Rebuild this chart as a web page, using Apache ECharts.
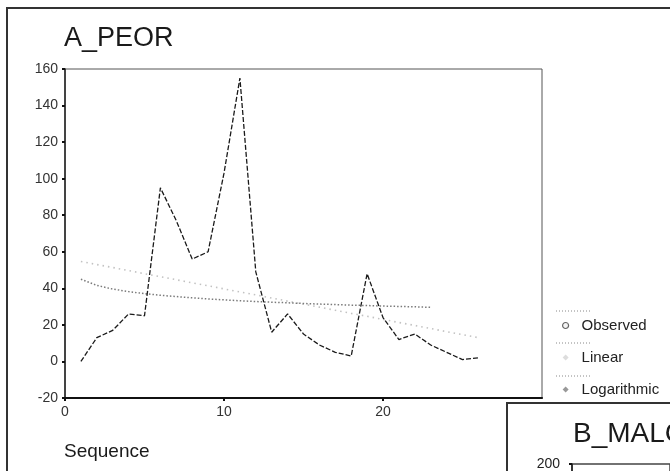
<!DOCTYPE html>
<html>
<head>
<meta charset="utf-8">
<script src="https://cdn.jsdelivr.net/npm/echarts@6/dist/echarts.min.js"></script>
<style>
  html, body { margin: 0; padding: 0; background: #fff; }
  #chart { width: 670px; height: 471px; }
</style>
</head>
<body>
<div id="chart"></div>
<script>
// Sequence index of each observation
var sequence = [1,2,3,4,5,6,7,8,9,10,11,12,13,14,15,16,17,18,19,20,21,22,23,24,25,26];
// Observed A_PEOR values
var observed = [0,13,17,26,25,95,77,56,60,103,155,49,16,26,15,9,5,3,48,24,12,15,9,5,1,2];
// Linear fit values at each sequence index
var linearFit = [54.7,53.0,51.4,49.7,48.0,46.4,44.7,43.0,41.4,39.7,38.0,36.4,34.7,33.0,31.3,29.7,28.0,26.3,24.7,23.0,21.3,19.7,18.0,16.3,14.7,13.0];
// Logarithmic fit values (sequence 1..23)
var logFit = [45.0,41.6,39.6,38.2,37.1,36.2,35.5,34.8,34.2,33.7,33.2,32.8,32.4,32.1,31.7,31.4,31.1,30.8,30.6,30.3,30.1,29.9,29.6];
// Legend entries
var legendNames = ['Observed', 'Linear', 'Logarithmic'];

function pairs(xs, ys) {
  return ys.map(function (y, i) { return [xs[i], y]; });
}

var FONT = '"Liberation Sans", Arial, sans-serif';
var chart = echarts.init(document.getElementById('chart'), null, { renderer: 'canvas' });

chart.setOption({
  animation: false,
  backgroundColor: '#ffffff',
  title: [
    { text: 'A_PEOR', left: 64, top: 25, padding: 0,
      textStyle: { fontFamily: FONT, fontSize: 27, fontWeight: 'normal', color: '#1a1a1a' } },
    { text: 'Sequence', left: 64, top: 442, padding: 0,
      textStyle: { fontFamily: FONT, fontSize: 19, fontWeight: 'normal', color: '#1a1a1a' } },
    { text: 'B_MALC', left: 573, top: 420, padding: 0, z: 6,
      textStyle: { fontFamily: FONT, fontSize: 28, fontWeight: 'normal', color: '#1a1a1a' } }
  ],
  legend: {
    orient: 'vertical',
    left: 562,
    top: 318,
    itemWidth: 6,
    itemHeight: 6,
    itemGap: 17,
    padding: 0,
    textStyle: { fontFamily: FONT, fontSize: 15, color: '#222', padding: [0, 0, 0, 8] },
    data: [
      { name: legendNames[0], icon: 'circle', itemStyle: { color: '#f4f4f4', borderColor: '#666', borderWidth: 1.2 } },
      { name: legendNames[1], icon: 'diamond', itemStyle: { color: '#ddd' } },
      { name: legendNames[2], icon: 'diamond', itemStyle: { color: '#999' } }
    ]
  },
  grid: [
    { left: 65, top: 69, right: 128, bottom: 73, show: true,
      borderColor: '#555', borderWidth: 1, backgroundColor: 'transparent' },
    { left: 572, top: 464, width: 300, height: 330, show: true,
      borderColor: '#444', borderWidth: 1.5, z: 5 }
  ],
  xAxis: [
    {
      type: 'value', gridIndex: 0, min: 0, max: 30, interval: 10,
      axisLine: { onZero: false, lineStyle: { color: '#111', width: 2.2 } },
      axisTick: { show: true, length: 3, lineStyle: { color: '#111', width: 2 } },
      axisLabel: { showMaxLabel: false, margin: 7, fontFamily: FONT, fontSize: 14, color: '#333' },
      splitLine: { show: false }
    },
    {
      type: 'value', gridIndex: 1, min: 0, max: 30, show: false
    }
  ],
  yAxis: [
    {
      type: 'value', gridIndex: 0, min: -20, max: 160, interval: 20,
      axisLine: { show: true, lineStyle: { color: '#222', width: 1.5 } },
      axisTick: { show: true, length: 3, lineStyle: { color: '#111', width: 2 } },
      axisLabel: { margin: 7, fontFamily: FONT, fontSize: 14, color: '#333' },
      splitLine: { show: false }
    },
    {
      type: 'value', gridIndex: 1, min: 0, max: 200, interval: 50, z: 6,
      axisLine: { show: true, lineStyle: { color: '#222', width: 1.5 } },
      axisTick: { show: true, length: 3, lineStyle: { color: '#111', width: 2 } },
      axisLabel: { margin: 12, fontFamily: FONT, fontSize: 14, color: '#222' },
      splitLine: { show: false }
    }
  ],
  series: [
    {
      name: legendNames[0], type: 'line', xAxisIndex: 0, yAxisIndex: 0,
      data: pairs(sequence, observed), showSymbol: false, symbol: 'none', z: 4,
      lineStyle: { color: '#1a1a1a', width: 1.3, type: [5, 2] }
    },
    {
      name: legendNames[1], type: 'line', xAxisIndex: 0, yAxisIndex: 0,
      data: pairs(sequence, linearFit), showSymbol: false, symbol: 'none', z: 3,
      lineStyle: { color: '#c2c2c2', width: 1.6, type: [1.5, 4] }
    },
    {
      name: legendNames[2], type: 'line', xAxisIndex: 0, yAxisIndex: 0,
      data: pairs(sequence, logFit), showSymbol: false, symbol: 'none', z: 3,
      lineStyle: { color: '#7a7a7a', width: 1.5, type: [1.5, 2] }
    }
  ],
  graphic: [
    // outer frame of the A_PEOR panel
    { type: 'polyline', z: 1, silent: true,
      shape: { points: [[7, 471], [7, 8], [670, 8]] },
      style: { stroke: '#333', lineWidth: 2, fill: null } },
    // frame of the B_MALC panel
    { type: 'rect', z: 1, silent: true,
      shape: { x: 507, y: 403, width: 200, height: 120 },
      style: { fill: '#fff', stroke: '#333', lineWidth: 2 } },
    // dotted rules above each legend entry
    { type: 'line', z: 1, silent: true, shape: { x1: 556, y1: 311, x2: 591, y2: 311 },
      style: { stroke: '#888', lineWidth: 1, lineDash: [1, 2] } },
    { type: 'line', z: 1, silent: true, shape: { x1: 556, y1: 343, x2: 591, y2: 343 },
      style: { stroke: '#888', lineWidth: 1, lineDash: [1, 2] } },
    { type: 'line', z: 1, silent: true, shape: { x1: 556, y1: 376, x2: 591, y2: 376 },
      style: { stroke: '#888', lineWidth: 1, lineDash: [1, 2] } }
  ]
});
</script>
</body>
</html>
